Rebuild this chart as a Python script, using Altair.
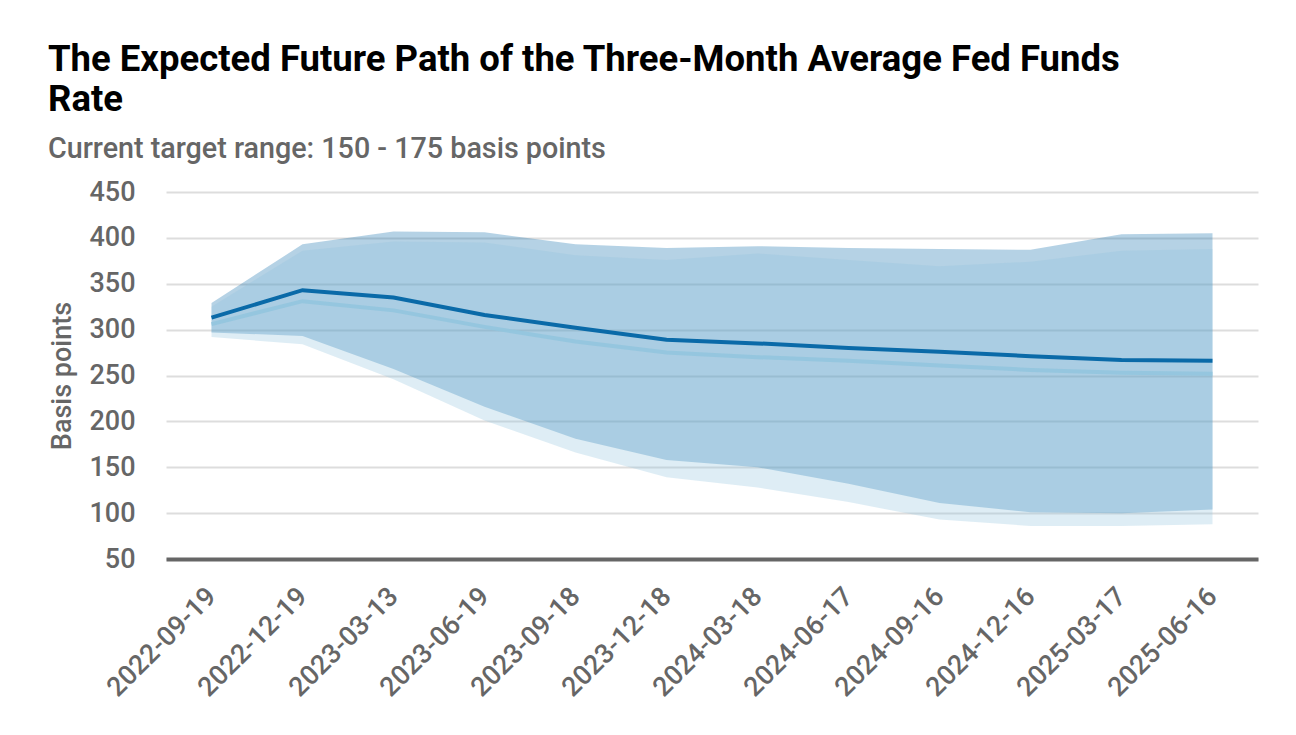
import altair as alt
import pandas as pd

dates = ["2022-09-19", "2022-12-19", "2023-03-13", "2023-06-19", "2023-09-18", "2023-12-18",
         "2024-03-18", "2024-06-17", "2024-09-16", "2024-12-16", "2025-03-17", "2025-06-16"]
dark_line = [313, 343, 335, 316, 302, 289, 285, 280, 276, 271, 267, 266]
light_line = [306, 331, 321, 303, 287, 275, 270, 266, 261, 256, 253, 252]
dark_upper = [329, 393, 407, 406, 393, 389, 391, 389, 388, 387, 404, 405]
dark_lower = [297, 293, 257, 216, 181, 158, 150, 132, 111, 101, 100, 104]
light_upper = [325, 386, 396, 395, 381, 376, 383, 376, 369, 374, 386, 388]
light_lower = [292, 284, 246, 201, 166, 139, 128, 112, 93, 86, 86, 88]

df = pd.DataFrame({
    "date": dates,
    "dark_line": dark_line,
    "light_line": light_line,
    "dark_upper": dark_upper,
    "dark_lower": dark_lower,
    "light_upper": light_upper,
    "light_lower": light_lower,
})

DARK = "#0a6aa8"
LIGHT = "#92c5de"
FONT = "Roboto"

x_enc = alt.X("date:O", sort=dates, title=None,
              scale=alt.Scale(type="point", padding=0.5),
              axis=alt.Axis(labelAngle=-45, labelFontSize=27, labelColor="#666666",
                            labelFont=FONT, labelFontWeight=500, ticks=False,
                            labelAlign="right", labelBaseline="middle",
                            domainColor="#666666", domainWidth=4, labelPadding=33,
                            grid=False))

y_scale = alt.Scale(domain=[50, 450], nice=False, zero=False)

base = alt.Chart(df)

band_dark = base.mark_area(color=DARK, opacity=0.3, interpolate="linear").encode(
    x=x_enc,
    y=alt.Y("dark_lower:Q", scale=y_scale, title="Basis points",
            axis=alt.Axis(values=list(range(50, 451, 25)),
                          labelExpr="datum.value % 50 === 0 ? datum.label : ''",
                          labelFontSize=27, labelColor="#666666", labelFont=FONT,
                          labelFontWeight=500,
                          labelPadding=31, ticks=False, domain=False,
                          gridColor={"condition": {"test": "datum.value % 50 === 0", "value": "#dddddd"},
                                     "value": "#eeeeee"},
                          gridWidth=2,
                          titleFontSize=27, titleColor="#666666", titleFont=FONT,
                          titleFontWeight=500, titlePadding=12)),
    y2="dark_upper:Q",
)

band_light = base.mark_area(color=LIGHT, opacity=0.3, interpolate="linear").encode(
    x=x_enc, y=alt.Y("light_lower:Q", scale=y_scale), y2="light_upper:Q",
)

line_light = base.mark_line(color=LIGHT, strokeWidth=4, opacity=0.9).encode(
    x=x_enc, y=alt.Y("light_line:Q", scale=y_scale),
)

line_dark = base.mark_line(color=DARK, strokeWidth=4).encode(
    x=x_enc, y=alt.Y("dark_line:Q", scale=y_scale),
)

chart = alt.layer(band_dark, band_light, line_light, line_dark).properties(
    width=1092,
    height=367,
    background="white",
    autosize=alt.AutoSizeParams(type="none"),
    padding={"left": 158, "top": 184, "right": 30, "bottom": 170},
    title=alt.TitleParams(
        text=["The Expected Future Path of the Three-Month Average Fed Funds", "Rate"],
        subtitle="Current target range: 150 - 175 basis points",
        anchor="start",
        frame="group",
        font=FONT,
        fontSize=36.5,
        fontWeight="bold",
        color="#000000",
        lineHeight=40,
        subtitleFont=FONT,
        subtitleFontSize=28.7,
        subtitleColor="#666666",
        subtitleFontWeight=500,
        subtitlePadding=17,
        dx=-118,
        offset=14,
    ),
).configure_view(stroke="transparent", strokeWidth=0)

chart.save("out.html", embed_options={"renderer": "svg", "actions": False})
